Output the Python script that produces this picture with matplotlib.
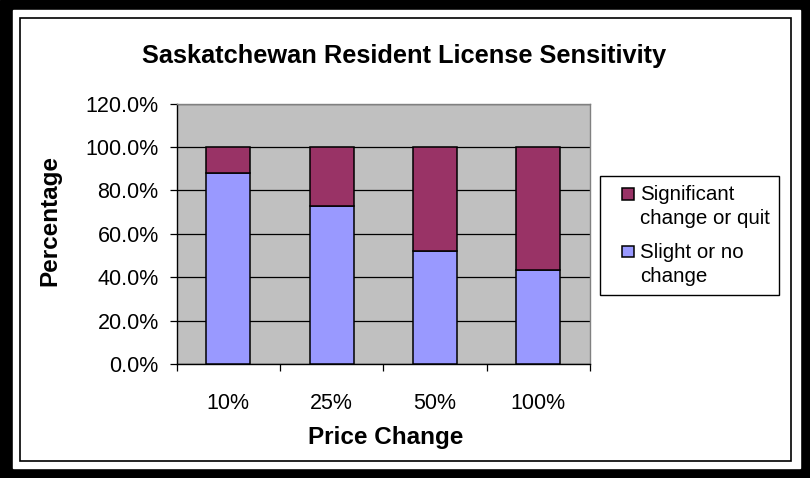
import matplotlib
matplotlib.use('Agg')
import matplotlib.pyplot as plt
from matplotlib.patches import Rectangle
from matplotlib.container import BarContainer
from matplotlib.ticker import FuncFormatter, FixedLocator
from matplotlib.legend_handler import HandlerPatch

plt.rcParams['font.family'] = ['Liberation Sans', 'DejaVu Sans']

# データ
categories = ['10%', '25%', '50%', '100%']
slight = [88.2, 72.7, 52.1, 43.2]
significant = [100 - v for v in slight]
series_names = ['Significant\nchange or quit', 'Slight or no\nchange']

W, H = 810, 478
fig = plt.figure(figsize=(W / 100, H / 100), dpi=100)

# 外枠
fig.patches.append(Rectangle((0, 0), 1, 1, transform=fig.transFigure, color='black', zorder=-3))
fig.patches.append(Rectangle((13 / W, 10 / H), 787 / W, 458 / H, transform=fig.transFigure,
                             color='white', zorder=-2))
fig.patches.append(Rectangle((20 / W, 17 / H), 771 / W, 443 / H, transform=fig.transFigure,
                             fill=False, edgecolor='black', linewidth=1.2, zorder=-1))

ax = fig.add_axes([176.7 / W, (H - 364) / H, 413.3 / W, 260.4 / H])
ax.set_facecolor('#C0C0C0')

x = range(len(categories))
w = 0.4255
ax.bar(x, slight, w, color='#9999FF', edgecolor='black', linewidth=1.1, zorder=3,
       label=series_names[1])
ax.bar(x, significant, w, bottom=slight, color='#993366', edgecolor='black', linewidth=1.1,
       zorder=3, label=series_names[0])

ax.set_xlim(-0.5, 3.5)
ax.set_ylim(0, 120)
ax.set_yticks(range(0, 121, 20))
ax.yaxis.set_major_formatter(FuncFormatter(lambda v, p: f'{v:.1f}%'))
ax.grid(axis='y', color='black', linewidth=0.9, zorder=1)
ax.tick_params(axis='y', length=5, width=0.9, pad=8, labelsize=15.5)

ax.set_xticks(list(x))
ax.set_xticklabels(categories)
ax.xaxis.set_minor_locator(FixedLocator([-0.5, 0.5, 1.5, 2.5, 3.5]))
ax.tick_params(axis='x', which='major', length=0, pad=21, labelsize=15.5)
ax.tick_params(axis='x', which='minor', length=5, width=0.9)

for s in ['top', 'right']:
    ax.spines[s].set_color('#808080')
    ax.spines[s].set_linewidth(1)
for s in ['left', 'bottom']:
    ax.spines[s].set_color('black')
    ax.spines[s].set_linewidth(1)

fig.text(404 / W, (H - 63) / H, 'Saskatchewan Resident License Sensitivity', ha='center',
         va='baseline', fontsize=18.3, fontweight='bold')
fig.text(385.5 / W, (H - 444) / H, 'Price Change', ha='center', va='baseline',
         fontsize=17.5, fontweight='bold')
fig.text(50 / W, (H - 221) / H, 'Percentage', ha='center', va='center', rotation=90,
         fontsize=17.5, fontweight='bold')

SQ = 0.58  # マーカーの大きさ (em)


# 凡例のマーカーを1行目に合わせる
def top_square(legend, orig_handle, xdescent, ydescent, width, height, fontsize):
    s = SQ * fontsize
    return Rectangle((-xdescent + width - s, -ydescent + 0.66 * fontsize), s, s)


def first_child(legend_handle, orig_handle):
    legend_handle.update_from(orig_handle.patches[0])


handles, labels = ax.get_legend_handles_labels()
leg = fig.legend(handles[::-1], labels[::-1], loc='upper left',
                 bbox_to_anchor=(600 / W, (H - 176) / H), fontsize=14.8,
                 frameon=True, fancybox=False, shadow=False, framealpha=1,
                 edgecolor='black', handlelength=1.18, handleheight=SQ,
                 handletextpad=0.33, borderpad=0.45, labelspacing=0.75,
                 borderaxespad=0,
                 handler_map={BarContainer: HandlerPatch(patch_func=top_square,
                                                         update_func=first_child)})
leg.get_frame().set_linewidth(1)
for t in leg.get_texts():
    t.set_linespacing(1.3)

fig.savefig('out.png', dpi=100)
